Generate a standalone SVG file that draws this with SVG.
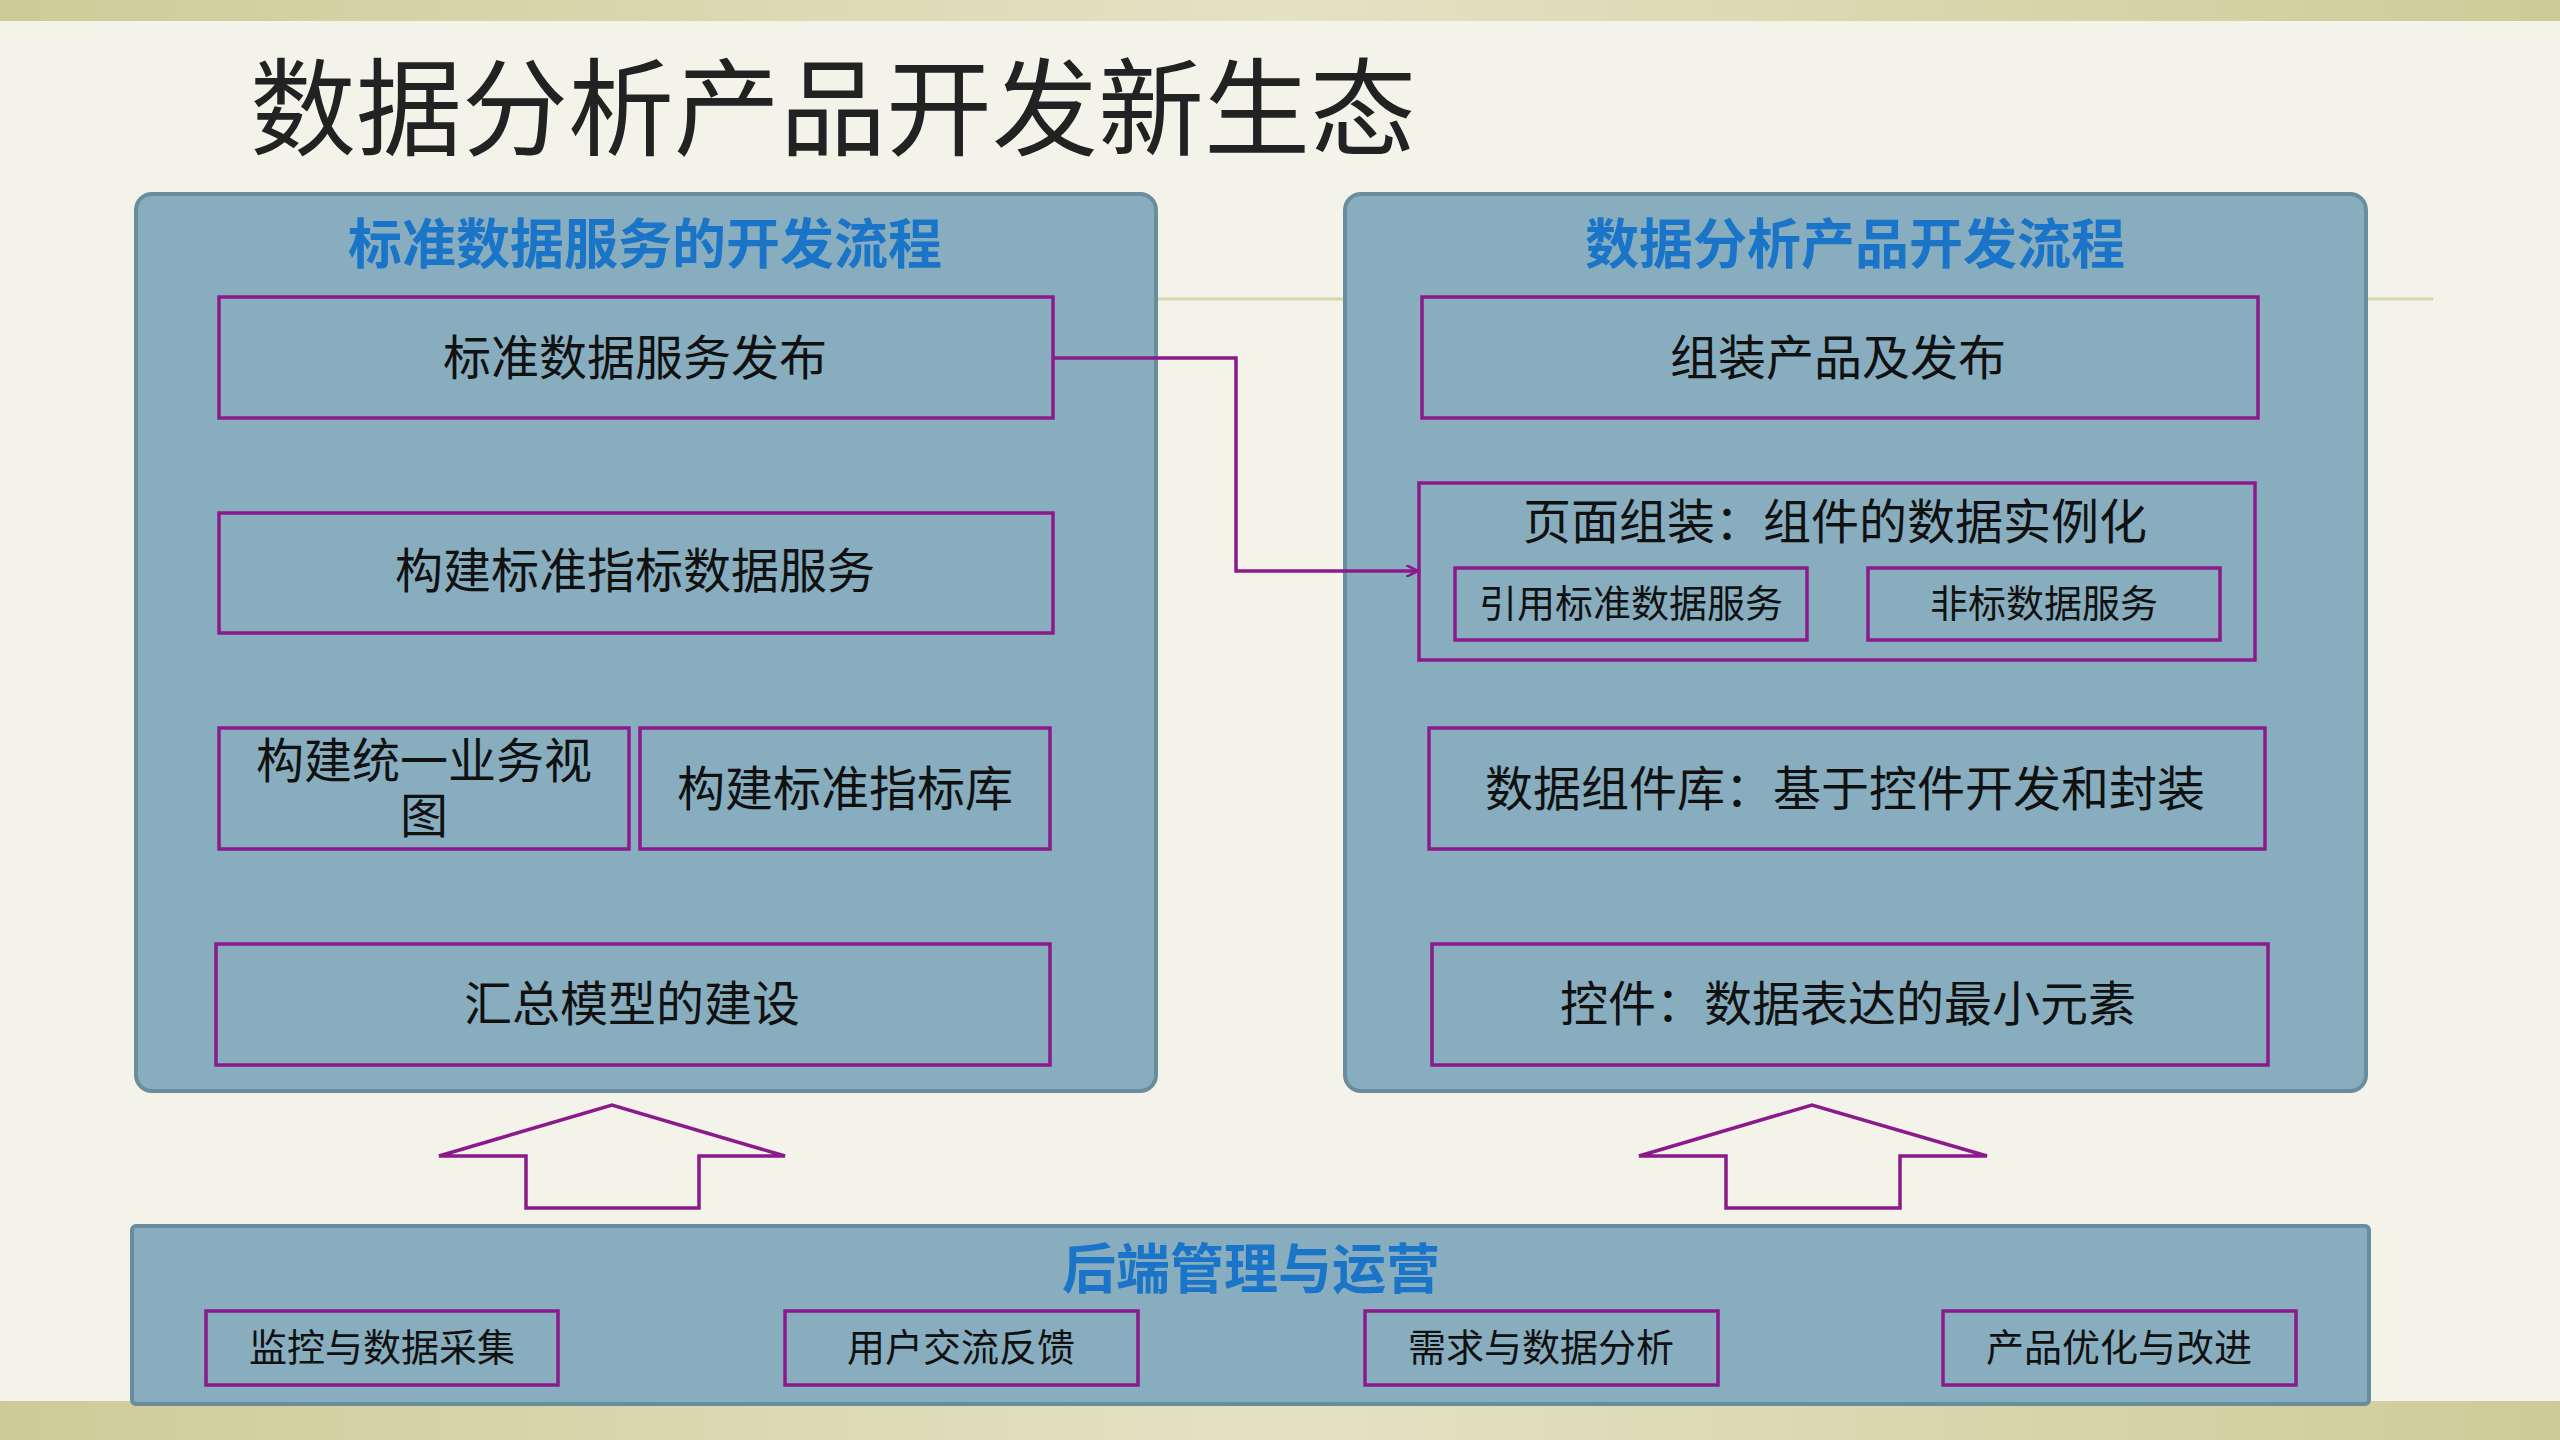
<svg xmlns="http://www.w3.org/2000/svg" width="2560" height="1440" viewBox="0 0 2560 1440">
<defs>
<linearGradient id="band" x1="0" x2="1" y1="0" y2="0"><stop offset="0" stop-color="#cfcb98"/><stop offset="0.5" stop-color="#e4e2c4"/><stop offset="1" stop-color="#cfcb98"/></linearGradient>
<marker id="ah" markerWidth="12" markerHeight="12" refX="11" refY="6" orient="auto" markerUnits="userSpaceOnUse"><path d="M0,0 L12,6 L0,12" fill="none" stroke="#8b1a8b" stroke-width="2.5"/></marker>
</defs>
<style>
.panel{fill:#87adbf;stroke:#6a8d9d;stroke-width:4}
.box{fill:none;stroke:#8b1a8b;stroke-width:3.5}
.t{font-family:"Liberation Sans","Noto Sans CJK SC",sans-serif;fill:#111;text-anchor:middle;dominant-baseline:central}
.big{font-size:48px}
.sm{font-size:38px}
.hd{font-family:"Liberation Sans","Noto Sans CJK SC",sans-serif;font-weight:bold;fill:#1a75c8;font-size:54px;text-anchor:middle;dominant-baseline:central}
.conn{fill:none;stroke:#8b1a8b;stroke-width:3.5}
</style>
<rect width="2560" height="1440" fill="#f4f3ea"/>
<rect width="2560" height="21" fill="url(#band)"/>
<rect y="1401" width="2560" height="39" fill="url(#band)"/>
<line x1="1156" y1="299" x2="2433" y2="299" stroke="#d8d5b0" stroke-width="3"/>
<text x="250" y="147" font-family="Liberation Sans,'Noto Sans CJK SC',sans-serif" font-size="106" fill="#222">数据分析产品开发新生态</text>

<g id="left-panel">
<rect class="panel" x="136" y="194" width="1020" height="897" rx="16"/>
<text class="hd" x="645" y="245">标准数据服务的开发流程</text>
</g>
<g id="l1"><rect class="box" x="219" y="297" width="834" height="121"/><text class="t big" x="635" y="358">标准数据服务发布</text></g>
<g id="l2"><rect class="box" x="219" y="513" width="834" height="120"/><text class="t big" x="635" y="571">构建标准指标数据服务</text></g>
<g id="l3a"><rect class="box" x="219" y="728" width="410" height="121"/><text class="t big" x="424" y="761">构建统一业务视</text><text class="t big" x="424" y="816">图</text></g>
<g id="l3b"><rect class="box" x="640" y="728" width="410" height="121"/><text class="t big" x="845" y="789">构建标准指标库</text></g>
<g id="l4"><rect class="box" x="216" y="944" width="834" height="121"/><text class="t big" x="632" y="1004">汇总模型的建设</text></g>

<g id="right-panel">
<rect class="panel" x="1345" y="194" width="1021" height="897" rx="16"/>
<text class="hd" x="1855" y="245">数据分析产品开发流程</text>
</g>
<g id="r1"><rect class="box" x="1422" y="297" width="836" height="121"/><text class="t big" x="1838" y="358">组装产品及发布</text></g>
<g id="r2"><rect class="box" x="1419" y="483" width="836" height="177"/><text class="t big" x="1835" y="522">页面组装：组件的数据实例化</text></g>
<g id="r2a"><rect class="box" x="1455" y="568" width="352" height="72"/><text class="t sm" x="1631" y="604">引用标准数据服务</text></g>
<g id="r2b"><rect class="box" x="1868" y="568" width="352" height="72"/><text class="t sm" x="2044" y="604">非标数据服务</text></g>
<g id="r3"><rect class="box" x="1429" y="728" width="836" height="121"/><text class="t big" x="1845" y="789">数据组件库：基于控件开发和封装</text></g>
<g id="r4"><rect class="box" x="1432" y="944" width="836" height="121"/><text class="t big" x="1848" y="1004">控件：数据表达的最小元素</text></g>

<g id="bottom-panel">
<rect class="panel" x="132" y="1226" width="2237" height="178" rx="4"/>
<text class="hd" x="1251" y="1270">后端管理与运营</text>
</g>
<g id="b1"><rect class="box" x="206" y="1311" width="352" height="74"/><text class="t sm" x="382" y="1348">监控与数据采集</text></g>
<g id="b2"><rect class="box" x="785" y="1311" width="353" height="74"/><text class="t sm" x="961" y="1348">用户交流反馈</text></g>
<g id="b3"><rect class="box" x="1365" y="1311" width="353" height="74"/><text class="t sm" x="1541" y="1348">需求与数据分析</text></g>
<g id="b4"><rect class="box" x="1943" y="1311" width="353" height="74"/><text class="t sm" x="2119" y="1348">产品优化与改进</text></g>

<g id="connectors">
<polyline class="conn" points="1053,358 1236,358 1236,571 1417,571" marker-end="url(#ah)"/>
<polygon class="conn" points="439,1156 612,1105 785,1156 699,1156 699,1208 526,1208 526,1156"/>
<polygon class="conn" points="1639,1156 1812,1105 1987,1156 1900,1156 1900,1208 1726,1208 1726,1156"/>
</g>
</svg>
